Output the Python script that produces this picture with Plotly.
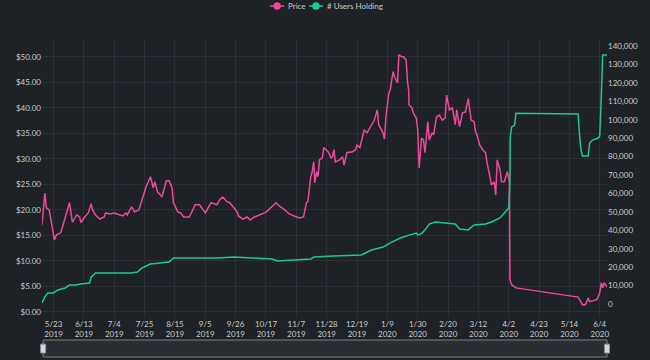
import plotly.graph_objects as go

price_dates = [
    "2019-05-15", "2019-05-17", "2019-05-18", "2019-05-20", "2019-05-23", "2019-05-23 12:00", "2019-05-25",
    "2019-05-28", "2019-05-31", "2019-06-02", "2019-06-03", "2019-06-04", "2019-06-05", "2019-06-08",
    "2019-06-10", "2019-06-11", "2019-06-13", "2019-06-16", "2019-06-18", "2019-06-19", "2019-06-21",
    "2019-06-24", "2019-06-27", "2019-06-28", "2019-07-01", "2019-07-04", "2019-07-08", "2019-07-10",
    "2019-07-12", "2019-07-13", "2019-07-16", "2019-07-18", "2019-07-21", "2019-07-24", "2019-07-26",
    "2019-07-29", "2019-07-31", "2019-08-01", "2019-08-03", "2019-08-05", "2019-08-06", "2019-08-09",
    "2019-08-11", "2019-08-13", "2019-08-14", "2019-08-17", "2019-08-19", "2019-08-21", "2019-08-25",
    "2019-08-29", "2019-09-01", "2019-09-05", "2019-09-07", "2019-09-09", "2019-09-13", "2019-09-15",
    "2019-09-17", "2019-09-20", "2019-09-22", "2019-09-24", "2019-09-27", "2019-09-28", "2019-10-01",
    "2019-10-04", "2019-10-06", "2019-10-09", "2019-10-13", "2019-10-16", "2019-10-18", "2019-10-21",
    "2019-10-24", "2019-10-26", "2019-10-30", "2019-11-02", "2019-11-06", "2019-11-09", "2019-11-12",
    "2019-11-14", "2019-11-15", "2019-11-17", "2019-11-18", "2019-11-19", "2019-11-19 18:00", "2019-11-21",
    "2019-11-22", "2019-11-23", "2019-11-25", "2019-11-26", "2019-11-29", "2019-12-01", "2019-12-02",
    "2019-12-03", "2019-12-04", "2019-12-07", "2019-12-09", "2019-12-10", "2019-12-12", "2019-12-16",
    "2019-12-18", "2019-12-19", "2019-12-21", "2019-12-22", "2019-12-24", "2019-12-26", "2019-12-28",
    "2019-12-31", "2020-01-02", "2020-01-03", "2020-01-06", "2020-01-07", "2020-01-08", "2020-01-10",
    "2020-01-11", "2020-01-13", "2020-01-14", "2020-01-16", "2020-01-17", "2020-01-19", "2020-01-20",
    "2020-01-22", "2020-01-23", "2020-01-23 18:00", "2020-01-24", "2020-01-26", "2020-01-27", "2020-01-29",
    "2020-01-30", "2020-01-31", "2020-02-01 16:00", "2020-02-03", "2020-02-04", "2020-02-06", "2020-02-07",
    "2020-02-09", "2020-02-10", "2020-02-12", "2020-02-14", "2020-02-16", "2020-02-18", "2020-02-19",
    "2020-02-21", "2020-02-23", "2020-02-25", "2020-02-26", "2020-02-28", "2020-03-01", "2020-03-03",
    "2020-03-05", "2020-03-07", "2020-03-09", "2020-03-10", "2020-03-11", "2020-03-13", "2020-03-15",
    "2020-03-17", "2020-03-18", "2020-03-20", "2020-03-21", "2020-03-23", "2020-03-24", "2020-03-25",
    "2020-03-27", "2020-03-28", "2020-03-30", "2020-04-01", "2020-04-02", "2020-04-02 12:00",
    "2020-04-02 20:00", "2020-04-04", "2020-04-07", "2020-05-02", "2020-05-20", "2020-05-23", "2020-05-25",
    "2020-05-27", "2020-05-28", "2020-06-02", "2020-06-04", "2020-06-05", "2020-06-06", "2020-06-07",
    "2020-06-09",
]
price_values = [
    17.1, 23.3, 20.4, 20.0, 15.1, 14.1, 15.1,
    15.5, 18.4, 20.6, 21.4, 19.6, 17.6, 19.0,
    18.6, 17.5, 18.4, 19.4, 21.2, 20.0, 19.0,
    18.2, 18.6, 19.4, 19.2, 19.4, 19.0, 18.8,
    19.4, 19.0, 20.6, 19.6, 20.0, 22.9, 24.5,
    26.5, 24.3, 25.5, 23.5, 22.9, 22.5, 25.7,
    25.7, 24.3, 21.4, 19.6, 19.4, 18.6, 18.6,
    21.0, 21.0, 19.4, 20.4, 21.4, 21.0, 22.0,
    22.5, 21.6, 21.4, 20.6, 19.6, 18.8, 18.2,
    18.6, 18.0, 18.6, 19.0, 19.4, 19.8, 20.6,
    21.4, 20.8, 20.0, 19.2, 18.8, 18.4, 18.6,
    21.4, 21.6, 26.5, 27.5, 29.4, 25.3, 27.5,
    26.5, 29.8, 30.2, 32.2, 31.4, 30.2, 30.4,
    31.8, 29.4, 29.8, 30.4, 28.8, 31.2, 31.4,
    31.8, 32.7, 32.2, 33.3, 35.7, 35.1, 36.1,
    37.6, 39.6, 36.7, 35.1, 33.9, 38.2, 42.9,
    43.5, 47.1, 46.1, 44.9, 50.4, 50.0, 50.0,
    49.4, 44.9, 43.5, 40.6, 40.0, 39.0, 38.0,
    35.7, 28.2, 34.1, 33.7, 31.2, 37.3, 33.7,
    35.1, 34.7, 38.2, 38.6, 37.6, 38.0, 42.5,
    39.6, 40.0, 36.7, 39.6, 36.3, 39.0, 39.2,
    41.8, 37.6, 37.3, 35.3, 34.7, 32.7, 31.8,
    31.2, 29.2, 26.5, 24.9, 25.5, 22.9, 29.8,
    27.8, 25.5, 25.5, 27.5, 25.5, 25.5,
    6.3, 5.3, 4.7, 3.7, 2.9, 1.4, 1.4,
    2.7, 2.0, 2.4, 3.7, 5.7, 4.7, 5.7,
    4.9,
]

users_dates = [
    "2019-05-15", "2019-05-17", "2019-05-19", "2019-05-23", "2019-05-26", "2019-05-31", "2019-06-03",
    "2019-06-07", "2019-06-11", "2019-06-17", "2019-06-18", "2019-06-21", "2019-07-16", "2019-07-20",
    "2019-07-23", "2019-07-29", "2019-08-11", "2019-08-14", "2019-09-13", "2019-09-25", "2019-10-21",
    "2019-10-25", "2019-11-17", "2019-11-19", "2019-12-03", "2019-12-22", "2019-12-29", "2020-01-06",
    "2020-01-12", "2020-01-18", "2020-01-24", "2020-01-29", "2020-01-30", "2020-02-02", "2020-02-04",
    "2020-02-07", "2020-02-11", "2020-02-18", "2020-02-25", "2020-02-28", "2020-03-05", "2020-03-09",
    "2020-03-17", "2020-03-21", "2020-03-27", "2020-03-30", "2020-04-02", "2020-04-02 20:00",
    "2020-04-03", "2020-04-04", "2020-04-06", "2020-04-07", "2020-05-20", "2020-05-21", "2020-05-22",
    "2020-05-23", "2020-05-27", "2020-05-28", "2020-05-30", "2020-06-03", "2020-06-04", "2020-06-05",
    "2020-06-06", "2020-06-09",
]
users_values = [
    500, 3800, 6000, 6000, 7600, 8700, 10300,
    10300, 10900, 11400, 14600, 16800, 16800, 17400,
    19500, 21700, 22800, 25000, 25000, 25500, 24400,
    23300, 24400, 25500, 26000, 26600, 29300, 30900,
    33600, 35800, 37400, 38500, 37400, 38500, 40200,
    43400, 44500, 43900, 43400, 40700, 40200, 42900,
    43400, 44500, 46700, 49400, 52100, 65700,
    90100, 96000, 97100, 103600, 103100, 91700, 83600,
    80300, 80300, 87400, 89000, 90100, 91200, 111800,
    135100, 135100,
]

legend_names = ["Price", "# Users Holding"]

PINK = "#ec4a9c"
GREEN = "#1fc98c"
BG = "#1e2125"
GRID = "#2c2f35"
TXT = "#c9cbcf"
FONT = "Lato"

fig = go.Figure()
fig.add_trace(go.Scatter(x=price_dates, y=price_values, mode="lines", name=legend_names[0],
                         line=dict(color=PINK, width=1.5), yaxis="y", showlegend=False))
fig.add_trace(go.Scatter(x=users_dates, y=users_values, mode="lines", name=legend_names[1],
                         line=dict(color=GREEN, width=1.5), yaxis="y2", showlegend=False))

# manual legend (layout decoration)
legend_y = 1.122
items = [(0.4162, PINK, legend_names[0]), (0.4850, GREEN, legend_names[1])]
shapes = []
annotations = []
for cx, col, name in items:
    shapes.append(dict(type="line", xref="paper", yref="paper", x0=cx - 0.0125, x1=cx + 0.0125,
                       y0=legend_y, y1=legend_y, line=dict(color=col, width=1.5)))
    shapes.append(dict(type="circle", xref="paper", yref="paper", x0=cx - 0.0066, x1=cx + 0.0066,
                       y0=legend_y - 0.0135, y1=legend_y + 0.0135, fillcolor=col, line=dict(color=col, width=0)))
    annotations.append(dict(xref="paper", yref="paper", x=cx + 0.0165, y=legend_y, text=name,
                            showarrow=False, xanchor="left", yanchor="middle",
                            font=dict(family=FONT, size=8, color=TXT)))

# range-slider look-alike (decoration below the axis)
slider_top, slider_bot = -0.0791, -0.1403
shapes.append(dict(type="rect", xref="paper", yref="paper", x0=0.002, x1=1.0,
                   y0=slider_bot, y1=slider_top, fillcolor="#2a2d32",
                   line=dict(color="#7e8186", width=1)))
for hx in (0.002, 1.0):
    shapes.append(dict(type="rect", xref="paper", yref="paper", x0=hx - 0.0045, x1=hx + 0.0045,
                       y0=-0.126, y1=-0.094, fillcolor="#d6d8db",
                       line=dict(color="#8a8d92", width=1)))

fig.update_layout(
    width=650, height=360,
    paper_bgcolor=BG, plot_bgcolor=BG,
    margin=dict(l=42, r=41, t=40, b=42),
    showlegend=False,
    shapes=shapes,
    annotations=annotations,
    font=dict(family=FONT, size=8, color=TXT),
    xaxis=dict(
        type="date",
        range=["2019-05-15", "2020-06-09"],
        tick0="2019-05-23", dtick=21 * 86400000,
        tickformat="%-m/%-d<br>%Y",
        showgrid=True, gridcolor=GRID, gridwidth=1,
        zeroline=False, showline=False,
        tickfont=dict(family=FONT, size=8, color=TXT),
    ),
    yaxis=dict(
        range=[-1.2, 53.3], dtick=5, tick0=0,
        tickprefix="$", tickformat=".2f",
        showgrid=True, gridcolor=GRID, gridwidth=1,
        zeroline=False, showline=False,
        tickfont=dict(family=FONT, size=8, color=TXT),
    ),
    yaxis2=dict(
        overlaying="y", side="right",
        range=[-7600, 143300], dtick=10000, tick0=0,
        tickformat=",d",
        showgrid=False, zeroline=False, showline=False,
        tickfont=dict(family=FONT, size=8, color=TXT),
    ),
)

post = "document.body.style.margin='0';document.body.style.overflow='hidden';"
fig.write_html("out.html", post_script=post, config={"displayModeBar": False})
